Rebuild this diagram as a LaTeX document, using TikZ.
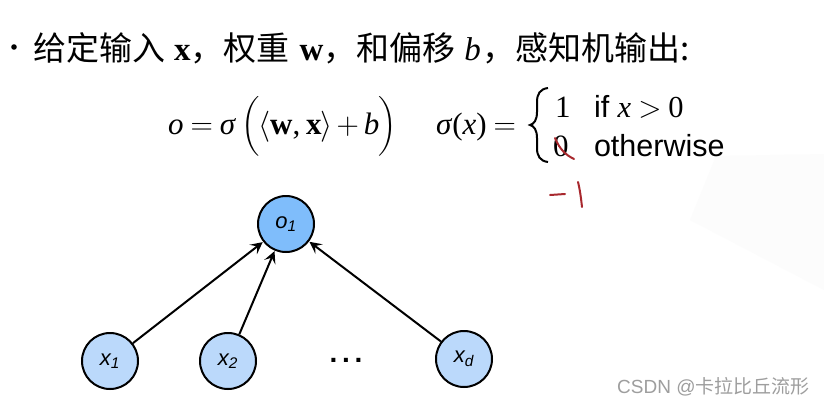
\RequirePackage{fix-cm}
\documentclass[tikz,border=0pt]{standalone}
\usepackage{amsmath}
\usepackage{fontspec}
\setmainfont{Liberation Serif}
\setsansfont{Liberation Sans}
\newfontfamily\cjk{Noto Sans CJK SC}
\usetikzlibrary{arrows.meta}
\definecolor{outblue}{HTML}{7FBDFB}
\definecolor{inblue}{HTML}{BBD9FB}
\definecolor{inkred}{HTML}{A8282E}
\newcommand{\fs}[1]{\fontsize{#1}{#1}\selectfont}
\newcommand{\mi}[1]{\textit{#1}}
\tikzset{
  neuron/.style={circle,draw=black,line width=2pt,minimum size=56pt,inner sep=0pt,font=\sffamily\itshape\fs{22}},
  outn/.style={neuron,fill=outblue},
  inn/.style={neuron,fill=inblue},
  conn/.style={draw=black,line width=2pt,-{Stealth[length=12pt,width=12pt,inset=5pt]},shorten >=0.5pt},
  txt/.style={anchor=base west,inner sep=0pt,outer sep=0pt},
  redink/.style={draw=inkred,line width=2pt,line cap=round},
}
\begin{document}
\begin{tikzpicture}[x=1pt,y=-1pt]
\useasboundingbox (0,0) rectangle (824,407);
\fill[white] (0,0) rectangle (824,407);
\fill[black!1] (716,156) -- (824,154) -- (824,290) -- (690,220) -- cycle;

\fill[black] (14,47) circle (2.8pt);
\node[txt,font=\fs{33}] (title) at (33,60)
 {\cjk 给定输入\hspace{9pt}{\rmfamily\bfseries x}，权重\hspace{10pt}{\rmfamily\bfseries w}，和偏移\hspace{9pt}{\rmfamily\itshape b}\hspace{2pt}，感知机输出:};

\node[txt,font=\fs{31}] (eqa) at (168,134)
 {\mi{o}\hspace{7pt}$=$\hspace{7pt}\mi{σ}\,$\Bigl(\kern-1.5pt\langle$\textbf{w},\hspace{-2pt} \textbf{x}\kern-1pt$\rangle$\hspace{4pt}$+$\hspace{5pt}\mi{b}\kern-1pt$\Bigr)$};
\node[txt,font=\fs{31}] (eqb) at (436,134) {\mi{σ}(\mi{x})\hspace{7pt}$=$};
\draw[black,line width=2pt] (548,88) .. controls (540,89) and (537,94) .. (537,102)
  -- (537,112) .. controls (537,120) and (534,124) .. (530,125)
  .. controls (534,126) and (537,130) .. (537,138)
  -- (537,148) .. controls (537,156) and (540,161) .. (548,162);
\node[txt,font=\fs{31}] (one) at (555,117) {1};
\node[txt,font=\fs{31}] (zero) at (553,156) {0};
\node[txt,font=\sffamily\fs{30.5}] (cond) at (594,117) {if \rmfamily\itshape x\hspace{7pt}\upshape$>$\hspace{7pt}0};
\node[txt,font=\sffamily\fs{30.5}] (other) at (594,156) {otherwise};

\draw[redink] (555,138) .. controls (560,150) and (566,155) .. (574,159);
\draw[redink] (550,195) -- (565,194);
\draw[redink] (578,182) .. controls (580,190) and (581,198) .. (582,207);

\node[outn] (o) at (286,224) {o\textsubscript{1}};
\node[inn] (x1) at (110,361) {x\textsubscript{1}};
\node[inn] (x2) at (228,361) {x\textsubscript{2}};
\node[inn] (xd) at (464,359) {x\textsubscript{d}};
\node[font=\sffamily\bfseries\fs{28},inner sep=0pt] (dots) at (346,360) {.\kern4.7pt.\kern4.7pt.};

\draw[conn] (x1) -- (o);
\draw[conn] (x2) -- (o);
\draw[conn] (xd) -- (o);

\node[anchor=base west,inner sep=0pt,text=black!38,font=\sffamily\fs{19}] (mark) at (617,393) {CSDN @{\cjk 卡拉比丘流形}};
\end{tikzpicture}
\end{document}
